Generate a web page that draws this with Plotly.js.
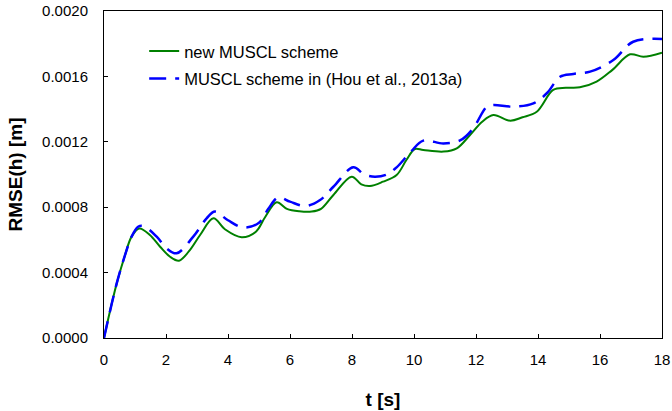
<!DOCTYPE html>
<html>
<head>
<meta charset="utf-8">
<script src="https://cdn.plot.ly/plotly-3.0.1.min.js"></script>
<style>
  html, body { margin: 0; padding: 0; background: #ffffff; }
  #chart { width: 672px; height: 411px; }
</style>
</head>
<body>
<div id="chart"></div>
<script>
// Series 1: new MUSCL scheme
var tNew = [0, 0.2, 0.41, 0.68, 0.89, 1.14, 1.48, 1.81, 2.13, 2.42, 2.77, 3.1, 3.53, 3.9, 4.44, 4.9, 5.2, 5.57, 5.9, 6.3, 6.7, 7.0, 7.4, 7.99, 8.3, 8.58, 9.0, 9.44, 9.76, 10.03, 10.3, 10.95, 11.38, 11.8, 12.2, 12.56, 13.1, 13.5, 13.96, 14.49, 14.9, 15.35, 15.89, 16.4, 16.97, 17.4, 18];
var rmseNew = [0, 0.00017, 0.000334, 0.000508, 0.00062, 0.00067, 0.00063, 0.000558, 0.000497, 0.000473, 0.000538, 0.00063, 0.000732, 0.000665, 0.000616, 0.00065, 0.00074, 0.00083, 0.00079, 0.000775, 0.000773, 0.00079, 0.000875, 0.000987, 0.00094, 0.00093, 0.000956, 0.000997, 0.00109, 0.001156, 0.00115, 0.00114, 0.00116, 0.00124, 0.001323, 0.001364, 0.001329, 0.00135, 0.001384, 0.001517, 0.00153, 0.001533, 0.001568, 0.00164, 0.001735, 0.00172, 0.001745];

// Series 2: MUSCL scheme in (Hou et al., 2013a)
var tHou = [0, 0.41, 0.68, 0.89, 1.1, 1.27, 1.7, 2.02, 2.34, 2.88, 3.31, 3.58, 4.0, 4.5, 5.0, 5.3, 5.62, 6.0, 6.5, 6.97, 7.4, 8.04, 8.4, 8.74, 9.12, 9.44, 9.9, 10.3, 10.95, 11.5, 11.9, 12.35, 12.56, 13.2, 13.85, 14.3, 14.71, 15.14, 15.68, 16.43, 17.07, 18];
var rmseHou = [0, 0.000334, 0.000508, 0.00062, 0.00068, 0.000685, 0.00062, 0.000548, 0.000518, 0.00062, 0.000732, 0.000773, 0.00072, 0.000675, 0.000705, 0.00079, 0.00086, 0.000834, 0.000807, 0.000844, 0.000925, 0.001044, 0.001, 0.000987, 0.001, 0.001044, 0.00114, 0.001207, 0.00119, 0.00121, 0.00128, 0.001415, 0.001425, 0.001415, 0.001435, 0.0015, 0.001598, 0.001615, 0.001629, 0.0017, 0.001812, 0.001829];

var seriesNames = ['new MUSCL scheme', 'MUSCL scheme in (Hou et al., 2013a)'];
var xTitle = '<b>t [s]</b>';
var yTitle = '<b>RMSE(h) [m]</b>';

var FONT = 'Arial, "Liberation Sans", sans-serif';

var traces = [
  {
    x: tNew, y: rmseNew, name: seriesNames[0], type: 'scatter', mode: 'lines',
    line: {color: '#008000', width: 2, shape: 'spline', smoothing: 1},
    legendgroup: 'a'
  },
  {
    x: tHou, y: rmseHou, name: seriesNames[1], type: 'scatter', mode: 'lines',
    line: {color: '#0000FF', width: 2.5, dash: '17px,9px', shape: 'spline', smoothing: 1},
    legendgroup: 'b'
  }
];

var layout = {
  width: 672, height: 411,
  margin: {l: 104, r: 10, t: 11, b: 73, pad: 0},
  paper_bgcolor: '#ffffff', plot_bgcolor: '#ffffff',
  font: {family: FONT, color: '#000000', size: 15},
  showlegend: true,
  legend: {
    x: 0.072, y: 0.93, xanchor: 'left', yanchor: 'top',
    bgcolor: 'rgba(0,0,0,0)', borderwidth: 0,
    font: {family: FONT, size: 16.5, color: '#000000'},
    traceorder: 'grouped', tracegroupgap: 3
  },
  xaxis: {
    range: [0, 18], dtick: 2, tick0: 0,
    ticks: 'inside', ticklen: 4, tickwidth: 1, tickcolor: '#000000',
    showline: true, linecolor: '#000000', linewidth: 1, mirror: true,
    showgrid: false, zeroline: false,
    tickfont: {family: FONT, size: 15, color: '#000000'},
    ticklabelstandoff: 8,
    title: {text: xTitle, font: {family: FONT, size: 19, color: '#000000'}, standoff: 25}
  },
  yaxis: {
    range: [0, 0.002], dtick: 0.0004, tick0: 0, tickformat: '.4f',
    ticks: 'inside', ticklen: 4, tickwidth: 1, tickcolor: '#000000',
    showline: true, linecolor: '#000000', linewidth: 1, mirror: true,
    showgrid: false, zeroline: false,
    tickfont: {family: FONT, size: 15, color: '#000000'},
    ticklabelstandoff: 12,
    title: {text: yTitle, font: {family: FONT, size: 19, color: '#000000'}, standoff: 14}
  }
};

Plotly.newPlot('chart', traces, layout, {staticPlot: true, displayModeBar: false});
</script>
</body>
</html>
